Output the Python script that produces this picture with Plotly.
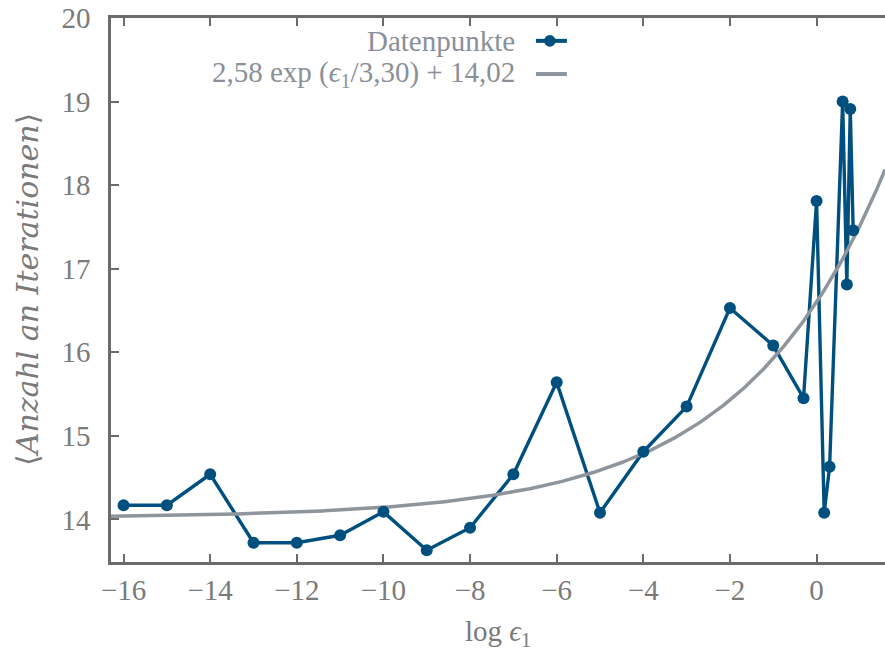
import numpy as np
import plotly.graph_objects as go

# --- data ---
log_eps = [-16, -15, -14, -13, -12, -11, -10, -9, -8, -7, -6, -5, -4, -3, -2, -1,
           -0.301, 0.0, 0.176, 0.301, 0.602, 0.699, 0.778, 0.845]
iterations = [14.17, 14.17, 14.54, 13.72, 13.72, 13.81, 14.09, 13.63, 13.90, 14.54,
              15.64, 14.08, 14.81, 15.35, 16.53, 16.08,
              15.45, 17.81, 14.08, 14.63, 19.00, 16.81, 18.91, 17.46]

fit_a = 2.58
fit_b = 3.30
fit_c = 14.02

x_range = [-16.29, 1.58]
y_range = [13.49, 20.0]
x_ticks = [-16, -14, -12, -10, -8, -6, -4, -2, 0]
y_ticks = [14, 15, 16, 17, 18, 19, 20]

label_data = "Datenpunkte"
label_fit = "2,58 exp (<i>ϵ</i><sub>1</sub>/3,30) + 14,02"
x_title = "log <i>ϵ</i><sub>1</sub>"
y_title = "⟨<i>Anzahl an Iterationen</i>⟩"

BLUE = "#00507f"
GRAY_FIT = "#8e959c"
AXIS = "#6b6b6b"
TEXT = "#7a7a7a"
LEG_TEXT = "#8a9099"
FONT = "Liberation Serif, serif"
FONT_WIDE = "DejaVu Serif, serif"

fit_x = np.linspace(x_range[0], x_range[1], 400)
fit_y = fit_a * np.exp(fit_x / fit_b) + fit_c

fig = go.Figure()
fig.add_trace(go.Scatter(x=log_eps, y=iterations, mode="lines",
                         line=dict(color=BLUE, width=3.4), showlegend=False))
fig.add_trace(go.Scatter(x=fit_x, y=fit_y, mode="lines",
                         line=dict(color=GRAY_FIT, width=3.5), showlegend=False))
fig.add_trace(go.Scatter(x=log_eps, y=iterations, mode="markers",
                         marker=dict(color=BLUE, size=12), showlegend=False))

fig.update_layout(
    width=885, height=651,
    margin=dict(l=111, r=0, t=18, b=89),
    paper_bgcolor="white", plot_bgcolor="white",
    font=dict(family=FONT, size=28, color=TEXT),
    xaxis=dict(range=x_range, tickvals=x_ticks,
               ticktext=[("−" + str(abs(v))) if v < 0 else str(v) for v in x_ticks],
               showgrid=False, zeroline=False,
               showline=True, linecolor=AXIS, linewidth=2.5, mirror="ticks",
               ticks="inside", ticklen=8, tickwidth=2, tickcolor=AXIS,
               tickfont=dict(family=FONT, size=29, color=TEXT)),
    yaxis=dict(range=y_range, tickvals=y_ticks, showgrid=False, zeroline=False,
               showline=True, linecolor=AXIS, linewidth=2.5,
               ticks="inside", ticklen=8, tickwidth=2, tickcolor=AXIS,
               ticklabelstandoff=12,
               tickfont=dict(family=FONT, size=29, color=TEXT)),
)

# axis titles
fig.add_annotation(text=x_title, xref="paper", yref="paper", x=0.5, y=0,
                   xanchor="center", yanchor="middle", yshift=-71, showarrow=False,
                   font=dict(family=FONT, size=29, color=TEXT))
fig.add_annotation(text=y_title, xref="paper", yref="paper", x=0, y=0.5,
                   xanchor="center", yanchor="middle", xshift=-84, textangle=-90,
                   showarrow=False, font=dict(family=FONT_WIDE, size=30, color=TEXT))

# legend (text right-aligned, samples on the right as in the reference)
leg_rows = [(0.958, label_data, BLUE, True), (0.897, label_fit, GRAY_FIT, False)]
for yy, txt, col, dot in leg_rows:
    fig.add_annotation(text=txt, xref="paper", yref="paper", x=0.524, y=yy,
                       xanchor="right", yanchor="middle", showarrow=False,
                       font=dict(family=FONT, size=29, color=LEG_TEXT))
    fig.add_shape(type="line", xref="paper", yref="paper", x0=0.549, x1=0.589,
                  y0=yy, y1=yy, line=dict(color=col, width=4))
    if dot:
        fig.add_shape(type="circle", xref="paper", yref="paper",
                      x0=0.567 - 0.0075, x1=0.567 + 0.0075,
                      y0=yy - 0.0107, y1=yy + 0.0107,
                      fillcolor=col, line=dict(color=col, width=0))

fig.write_html("out.html", config={"displayModeBar": False},
               post_script="document.body.style.margin='0';document.body.style.overflow='hidden';")
